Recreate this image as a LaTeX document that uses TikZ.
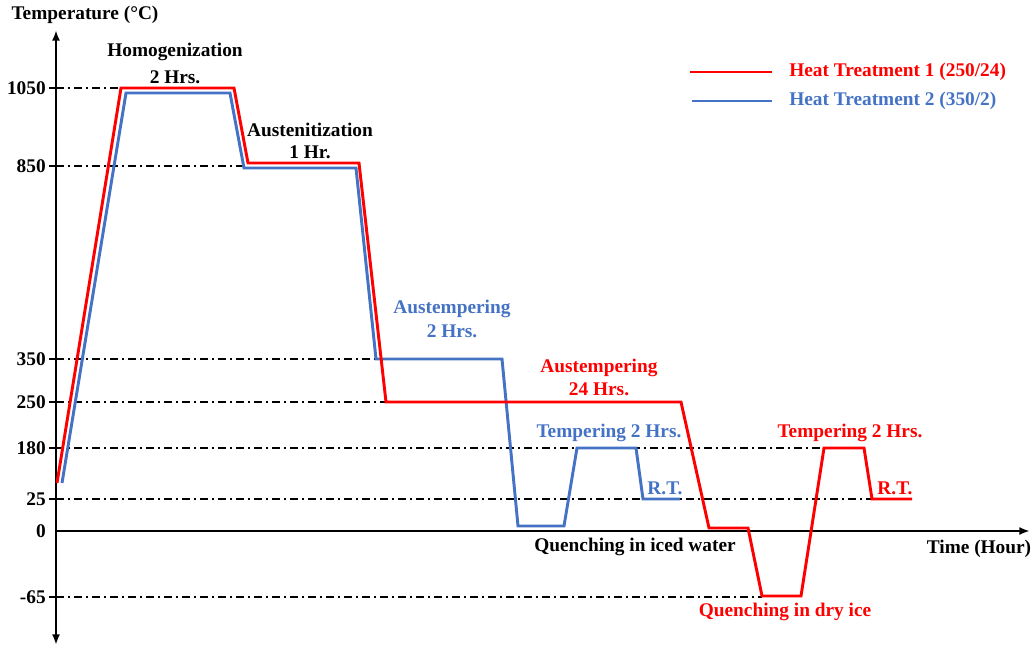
\documentclass[tikz,border=0pt]{standalone}
\usepackage{fontspec}
\setmainfont{Liberation Serif}
\usetikzlibrary{arrows.meta,positioning}
\usepackage{xcolor}
\definecolor{htRed}{HTML}{FF0000}
\definecolor{htBlue}{HTML}{4472C4}
\tikzset{
    axis/.style={
        line width=2.2pt,
        draw=black,
        -{Latex[length=8pt,width=6pt]}
    },
    tickmark/.style={line width=1.6pt,draw=black},
    guide/.style={
        line width=1.1pt,
        draw=black,
        dash pattern=on 6pt off 3pt on 1.5pt off 3pt
    },
    redcurve/.style={line width=2.2pt,draw=htRed,line join=miter},
    bluecurve/.style={line width=2.2pt,draw=htBlue,line join=miter},
    lbl/.style={
        font=\bfseries\fontsize{14.5}{16}\selectfont,
        inner sep=0pt,
        align=center
    },
    redlbl/.style={lbl,text=htRed},
    bluelbl/.style={lbl,text=htBlue},
    ticklbl/.style={lbl,anchor=east}
}
\begin{document}
\begin{tikzpicture}[x=0.75pt,y=-0.75pt]
    \useasboundingbox (0,0) rectangle (1034,646);

    \coordinate (origin) at (56,531);
    \coordinate (ytop) at (56,30);
    \coordinate (ybot) at (56,645);
    \coordinate (xend) at (1030,531);

    \draw[guide] (56,88) -- (121,88);
    \draw[guide] (56,166) -- (246,166);
    \draw[guide] (56,359) -- (376,359);
    \draw[guide] (56,402) -- (386,402);
    \draw[guide] (56,448) -- (824,448);
    \draw[guide] (56,499) -- (872,499);
    \draw[guide] (56,597) -- (762,597);

    \draw[tickmark] (49,88) -- (56,88);
    \draw[tickmark] (49,166) -- (56,166);
    \draw[tickmark] (49,359) -- (56,359);
    \draw[tickmark] (49,402) -- (56,402);
    \draw[tickmark] (49,448) -- (56,448);
    \draw[tickmark] (49,499) -- (56,499);
    \draw[tickmark] (49,597) -- (56,597);

    \draw[axis,{Latex[length=8pt,width=6pt]}-{Latex[length=8pt,width=6pt]}] (ybot) -- (ytop);
    \draw[axis] (origin) -- (xend);

    \node[ticklbl] (t1050) at (46,88) {1050};
    \node[ticklbl] (t850) at (46,166) {850};
    \node[ticklbl] (t350) at (46,359) {350};
    \node[ticklbl] (t250) at (46,402) {250};
    \node[ticklbl] (t180) at (46,448) {180};
    \node[ticklbl] (t25) at (46,499) {25};
    \node[ticklbl] (t0) at (46,531) {0};
    \node[ticklbl] (tm65) at (46,597) {-65};

    \draw[bluecurve] (62,483) -- (126,93) -- (230,93) -- (244,168)
        -- (356,168) -- (376,359) -- (502,359) -- (518,526)
        -- (564,526) -- (577,448) -- (636,448) -- (643,499) -- (680,499);
    \draw[redcurve] (57,483) -- (121,88) -- (234,88) -- (248,163)
        -- (359,163) -- (386,402) -- (681,402) -- (709,528)
        -- (748,528) -- (762,596) -- (801,596) -- (824,448)
        -- (864,448) -- (872,499) -- (912,499);

    \node[lbl] (ylabel) at (85,15) {Temperature (°C)};
    \node[lbl] (xlabel) at (979,549) {Time (Hour)};
    \node[lbl] (homog) at (175,52) {Homogenization};
    \node[lbl] (homogtime) at (175,77) {2 Hrs.};
    \node[lbl] (austen) at (310,130) {Austenitization};
    \node[lbl] (austentime) at (310,152) {1 Hr.};
    \node[bluelbl] (bausttemp) at (452,309) {Austempering};
    \node[bluelbl] (baustime) at (452,331) {2 Hrs.};
    \node[redlbl] (raustemp) at (599,368) {Austempering};
    \node[redlbl] (raustime) at (599,389) {24 Hrs.};
    \node[bluelbl] (btemper) at (609,433) {Tempering 2 Hrs.};
    \node[bluelbl] (brt) at (665,488) {R.T.};
    \node[lbl] (bquench) at (635,547) {Quenching in iced water};
    \node[redlbl] (rtemper) at (850,433) {Tempering 2 Hrs.};
    \node[redlbl] (rrt) at (895,488) {R.T.};
    \node[redlbl] (rquench) at (785,612) {Quenching in dry ice};

    \coordinate (legA) at (690,72);
    \coordinate (legB) at (772,72);
    \coordinate (legC) at (692,101);
    \coordinate (legD) at (772,101);
    \draw[redcurve] (legA) -- (legB);
    \draw[bluecurve] (legC) -- (legD);
    \node[redlbl,anchor=west] (leg1) at (789,72) {Heat Treatment 1 (250/24)};
    \node[bluelbl,anchor=west] (leg2) at (789,101) {Heat Treatment 2 (350/2)};
\end{tikzpicture}
\end{document}
